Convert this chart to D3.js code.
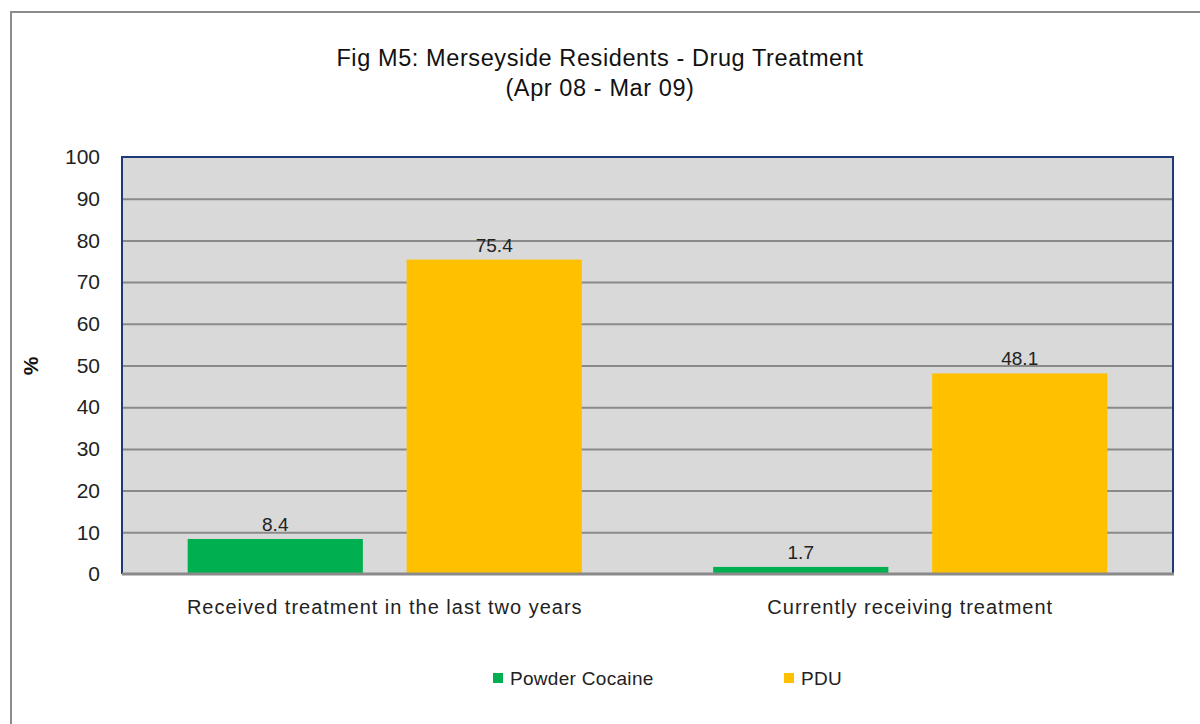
<!DOCTYPE html>
<html>
<head>
<meta charset="utf-8">
<script src="https://cdn.jsdelivr.net/npm/d3@7"></script>
<style>
  html, body { margin: 0; padding: 0; background: #fff; }
  svg { display: block; font-family: "Liberation Sans", Arial, sans-serif; }
</style>
</head>
<body>
<svg id="chart" width="1200" height="724"></svg>
<script>
const categories = ["Received treatment in the last two years", "Currently receiving treatment"];
const seriesNames = ["Powder Cocaine", "PDU"];
const powderCocaine = [8.4, 1.7];
const pdu = [75.4, 48.1];
const seriesColors = ["#00B050", "#FFC000"];
const yTicks = [0, 10, 20, 30, 40, 50, 60, 70, 80, 90, 100];
const titleLines = ["Fig M5: Merseyside Residents - Drug Treatment", "(Apr 08 - Mar 09)"];
const yAxisLabel = "%";

const seriesValues = [powderCocaine, pdu];
const data = categories.map((c, i) => ({
  category: c,
  values: seriesNames.map((s, j) => ({ series: s, value: seriesValues[j][i], color: seriesColors[j] }))
}));

const svg = d3.select("#chart");
const W = 1200, H = 724;
const plot = { left: 122, right: 1173, top: 157, bottom: 574 };
const textColor = "#222";
const FF = "'Liberation Sans', Arial, sans-serif";

// outer chart border
svg.append("rect")
  .attr("x", 11).attr("y", 12)
  .attr("width", W + 20).attr("height", H + 20)
  .attr("fill", "none").attr("stroke", "#8c8c8c").attr("stroke-width", 2);

// title
svg.append("g").selectAll("text").data(titleLines).join("text")
  .attr("x", 600).attr("y", (d, i) => 66 + i * 30)
  .attr("text-anchor", "middle")
  .attr("font-size", 23.5).attr("letter-spacing", 0.6).attr("fill", "#111")
  .text(d => d);

const x0 = d3.scaleBand().domain(categories).range([plot.left, plot.right]).padding(0);
const x1 = d3.scaleBand().domain(seriesNames).range([0, x0.bandwidth()]).paddingInner(0.2).paddingOuter(0.3);
const y = d3.scaleLinear().domain([0, 100]).range([plot.bottom, plot.top]);

// plot background
svg.append("rect")
  .attr("x", plot.left).attr("y", plot.top)
  .attr("width", plot.right - plot.left).attr("height", plot.bottom - plot.top)
  .attr("fill", "#D9D9D9");

// gridlines
svg.append("g")
  .attr("transform", `translate(${plot.left},0)`)
  .call(d3.axisLeft(y).tickValues(yTicks.filter(t => t > 0 && t < 100)).tickSize(-(plot.right - plot.left)).tickFormat(""))
  .call(g => g.select(".domain").remove())
  .call(g => g.selectAll("line").attr("stroke", "#8a8a8a").attr("stroke-width", 2));

// bars
const groups = svg.append("g").selectAll("g").data(data).join("g")
  .attr("transform", d => `translate(${x0(d.category)},0)`);

groups.selectAll("rect").data(d => d.values).join("rect")
  .attr("x", d => x1(d.series))
  .attr("width", x1.bandwidth())
  .attr("y", d => y(d.value))
  .attr("height", d => y(0) - y(d.value))
  .attr("fill", d => d.color);

groups.selectAll("text").data(d => d.values).join("text")
  .attr("x", d => x1(d.series) + x1.bandwidth() / 2)
  .attr("y", d => y(d.value) - 8)
  .attr("text-anchor", "middle")
  .attr("font-size", 19).attr("fill", textColor)
  .text(d => d.value.toFixed(1));

// plot border (navy top/right/left)
svg.append("path")
  .attr("d", `M${plot.left},${plot.bottom} V${plot.top} H${plot.right} V${plot.bottom}`)
  .attr("fill", "none").attr("stroke", "#1F3A78").attr("stroke-width", 2);

// bottom axis line
svg.append("line")
  .attr("x1", plot.left).attr("x2", plot.right + 1)
  .attr("y1", plot.bottom).attr("y2", plot.bottom)
  .attr("stroke", "#8a8a8a").attr("stroke-width", 3);

// y axis tick labels
svg.append("g")
  .attr("transform", `translate(${plot.left},0)`)
  .call(d3.axisLeft(y).tickValues(yTicks).tickSize(0).tickPadding(22))
  .call(g => g.select(".domain").remove())
  .call(g => g.selectAll("text").attr("font-size", 21).attr("fill", textColor)
    .attr("font-family", FF));

// x axis category labels
svg.append("g")
  .attr("transform", `translate(0,${plot.bottom})`)
  .call(d3.axisBottom(x0).tickSize(0).tickPadding(26))
  .call(g => g.select(".domain").remove())
  .call(g => g.selectAll("text").attr("font-size", 20).attr("letter-spacing", 1.0).attr("fill", textColor)
    .attr("font-family", FF));

// y axis label
svg.append("text")
  .attr("transform", "translate(38,366) rotate(-90)")
  .attr("text-anchor", "middle")
  .attr("font-size", 21).attr("font-weight", "bold").attr("fill", "#111")
  .text(yAxisLabel);

// legend
const legendX = [493, 784];
const legend = svg.append("g").selectAll("g").data(seriesNames).join("g")
  .attr("transform", (d, i) => `translate(${legendX[i]},673)`);
legend.append("rect").attr("width", 10).attr("height", 10).attr("fill", (d, i) => seriesColors[i]);
legend.append("text").attr("x", 17).attr("y", 12)
  .attr("font-size", 19).attr("letter-spacing", 0.3).attr("fill", textColor).text(d => d);
</script>
</body>
</html>
